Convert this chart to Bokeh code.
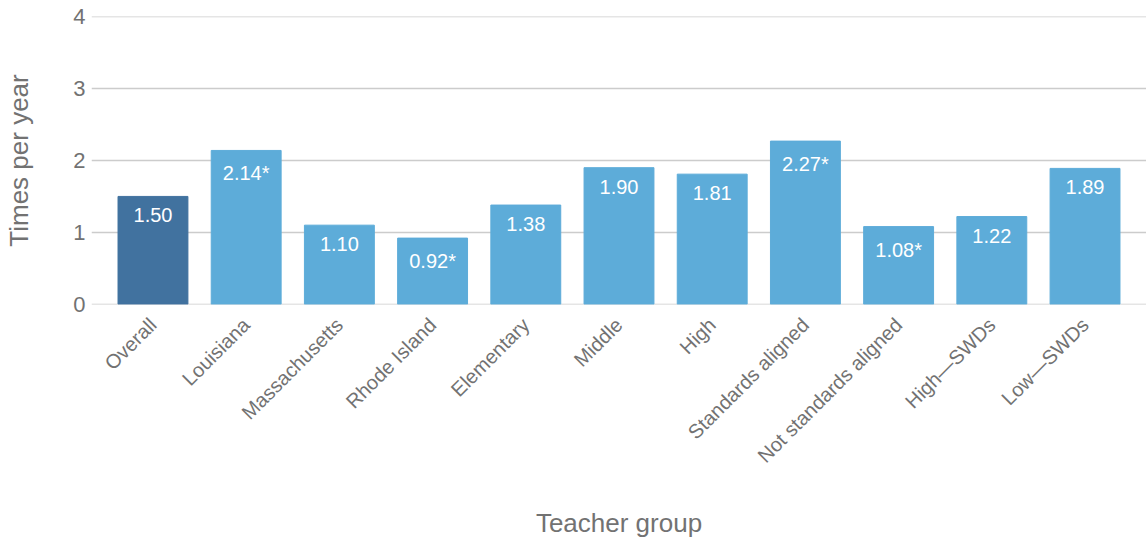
import math
from bokeh.plotting import figure
from bokeh.models import ColumnDataSource, FactorRange
from bokeh.embed import file_html
from bokeh.resources import INLINE

categories = ["Overall", "Louisiana", "Massachusetts", "Rhode Island", "Elementary",
              "Middle", "High", "Standards aligned", "Not standards aligned",
              "High\u2014SWDs", "Low\u2014SWDs"]
values = [1.50, 2.14, 1.10, 0.92, 1.38, 1.90, 1.81, 2.27, 1.08, 1.22, 1.89]
labels = ["1.50", "2.14*", "1.10", "0.92*", "1.38", "1.90", "1.81", "2.27*", "1.08*", "1.22", "1.89"]
y_ticks = [0, 1, 2, 3, 4]

DARK = "#41729f"
LIGHT = "#5dacd9"
colors = [DARK] + [LIGHT] * (len(categories) - 1)

FONT = "Liberation Sans"
GRAY = "#727272"

src = ColumnDataSource(dict(cat=categories, val=values, lab=labels, col=colors))

p = figure(width=1146, height=540, frame_width=1055, frame_height=288,
           output_backend="svg", toolbar_location=None,
           x_range=FactorRange(*categories, range_padding=0.029), y_range=(-0.004, 4.004),
           min_border_left=91, min_border_right=0, min_border_top=16, min_border_bottom=0)

p.vbar(x="cat", top="val", bottom=0, width=0.75, color="col", source=src)
p.text(x="cat", y="val", text="lab", source=src, text_color="white",
       text_font=dict(value=FONT), text_font_size="20px", text_align="center",
       text_baseline="top", y_offset=12)

p.outline_line_color = None
p.xgrid.grid_line_color = None
p.ygrid.grid_line_color = "#cccccc"
p.ygrid.grid_line_width = 1.6
p.yaxis.ticker = y_ticks

for ax in (p.xaxis, p.yaxis):
    ax.axis_line_color = None
    ax.major_tick_line_color = None
    ax.minor_tick_line_color = None
    ax.major_tick_in = 0
    ax.major_tick_out = 0
    ax.major_label_text_font = FONT
    ax.major_label_text_color = GRAY
    ax.axis_label_text_font = FONT
    ax.axis_label_text_color = GRAY
    ax.axis_label_text_font_style = "normal"
    ax.axis_label_text_font_size = "26px"

p.yaxis.major_label_text_font_size = "22px"
p.yaxis.major_label_standoff = 6
p.yaxis.axis_label = "Times per year"
p.yaxis.axis_label_standoff = 36

p.xaxis.major_label_text_font_size = "20px"
p.xaxis.major_label_orientation = math.pi / 4
p.xaxis.major_label_standoff = 17
p.xaxis.axis_label = "Teacher group"
p.xaxis.axis_label_standoff = 30

open("out.html", "w").write(file_html(p, INLINE))
